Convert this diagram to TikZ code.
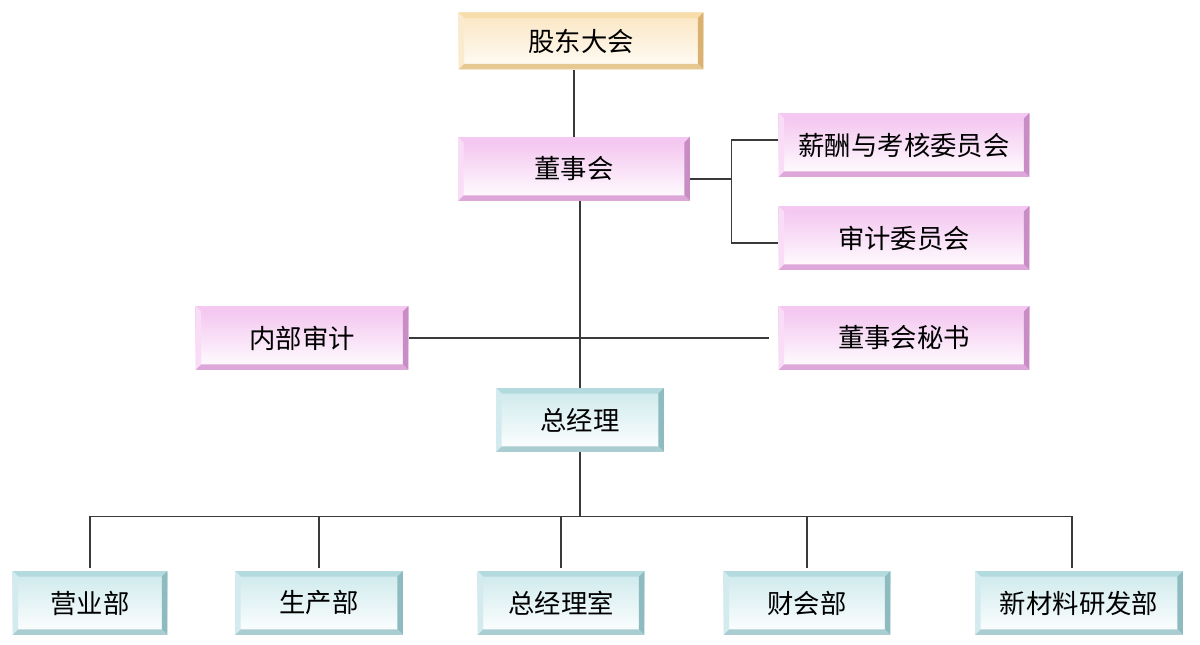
\documentclass[tikz,border=0pt]{standalone}
\usepackage{fontspec}
\newfontfamily\cjk{Noto Sans CJK SC}
\usetikzlibrary{positioning,calc}
\def\bevw{0.11cm}
\definecolor{pinkface}{HTML}{F3C2EF}
\definecolor{pinktop}{HTML}{F5C8F2}
\definecolor{pinkleft}{HTML}{F9DDF7}
\definecolor{pinkright}{HTML}{C98DC6}
\definecolor{pinkbottom}{HTML}{DDA7D9}
\definecolor{tealface}{HTML}{CDE9EC}
\definecolor{tealtop}{HTML}{B3DADE}
\definecolor{tealleft}{HTML}{D3EBEE}
\definecolor{tealright}{HTML}{8DBBC0}
\definecolor{tealbottom}{HTML}{A9CDD1}
\definecolor{goldface}{HTML}{FBE6C2}
\definecolor{goldtop}{HTML}{F7DDAA}
\definecolor{goldleft}{HTML}{FAEBCE}
\definecolor{goldright}{HTML}{D9B273}
\definecolor{goldbottom}{HTML}{E6C892}
\definecolor{linegray}{HTML}{3A3A3A}
\tikzset{
    board/.style={rectangle, minimum height=1.28cm, inner sep=0pt,
        font=\cjk\fontsize{15}{18}\selectfont, text=black},
    bevel/.style n args={4}{path picture={
        \fill[#1] (path picture bounding box.north west) -- (path picture bounding box.north east)
            -- ([xshift=-\bevw,yshift=-\bevw]path picture bounding box.north east)
            -- ([xshift=\bevw,yshift=-\bevw]path picture bounding box.north west) -- cycle;
        \fill[#2] (path picture bounding box.north west) -- (path picture bounding box.south west)
            -- ([xshift=\bevw,yshift=\bevw]path picture bounding box.south west)
            -- ([xshift=\bevw,yshift=-\bevw]path picture bounding box.north west) -- cycle;
        \fill[#3] (path picture bounding box.north east) -- (path picture bounding box.south east)
            -- ([xshift=-\bevw,yshift=\bevw]path picture bounding box.south east)
            -- ([xshift=-\bevw,yshift=-\bevw]path picture bounding box.north east) -- cycle;
        \fill[#4] (path picture bounding box.south west) -- (path picture bounding box.south east)
            -- ([xshift=-\bevw,yshift=\bevw]path picture bounding box.south east)
            -- ([xshift=\bevw,yshift=\bevw]path picture bounding box.south west) -- cycle;
    }},
    pink board/.style={board, top color=pinkface, bottom color=white,
        bevel={pinktop}{pinkleft}{pinkright}{pinkbottom}},
    teal board/.style={board, top color=tealface, bottom color=white,
        bevel={tealtop}{tealleft}{tealright}{tealbottom}},
    gold board/.style={board, top color=goldface, bottom color=white!85!goldface,
        bevel={goldtop}{goldleft}{goldright}{goldbottom}},
    link/.style={draw=linegray, line width=0.7pt}
}
\begin{document}
\begin{tikzpicture}[x=0.02cm, y=-0.02cm]
    \useasboundingbox[fill=white] (0,0) rectangle (1200,645);
    % top part
    \node[gold board, minimum width=4.9cm, minimum height=1.14cm] (gudong) at (581,41) {股东大会};
    \node[pink board, minimum width=4.64cm] (dongshi) at (574,169) {董事会};
    \node[pink board, minimum width=5.02cm] (xinchou) at (904,145) {薪酬与考核委员会};
    \node[pink board, minimum width=5.02cm] (shenji) at (904,238) {审计委员会};
    \node[pink board, minimum width=4.26cm] (neibu) at (302,338) {内部审计};
    \node[pink board, minimum width=5.02cm] (mishu) at (904,338) {董事会秘书};
    \node[teal board, minimum width=3.36cm] (zongjingli) at (580,420) {总经理};
    % departments
    \node[teal board, minimum width=3.1cm] (yingye) at (90,603) {营业部};
    \node[teal board, minimum width=3.36cm] (shengchan) at (319,603) {生产部};
    \node[teal board, minimum width=3.34cm] (zjls) at (561,603) {总经理室};
    \node[teal board, minimum width=3.34cm] (caikui) at (807,603) {财会部};
    \node[teal board, minimum width=4.16cm] (xincailiao) at (1079,603) {新材料研发部};

    \draw[link] (dongshi.north) -- (dongshi.north |- gudong.south);
    \draw[link] ([yshift=-0.2cm]dongshi.east) -- ++(41,0) coordinate (fork);
    \draw[link] ([yshift=0.1cm]xinchou.west) -| (fork) |- ([yshift=-0.1cm]shenji.west);
    \draw[link] (zongjingli.north) -- (zongjingli.north |- dongshi.south);
    \draw[link] (neibu.east) -- ([xshift=-0.18cm]mishu.west);
    \draw[link] (zongjingli.south) -- ++(0,64) coordinate (bus);
    \draw[link] (yingye.north |- bus) -- ([xshift=-0.14cm]xincailiao.north |- bus);
    \foreach \dept/\dx in {yingye/0,shengchan/0,zjls/0,caikui/0,xincailiao/-0.14}
        \draw[link] ([xshift=\dx cm,yshift=0.06cm]\dept.north) -- ([xshift=\dx cm]\dept.north |- bus);
\end{tikzpicture}
\end{document}
